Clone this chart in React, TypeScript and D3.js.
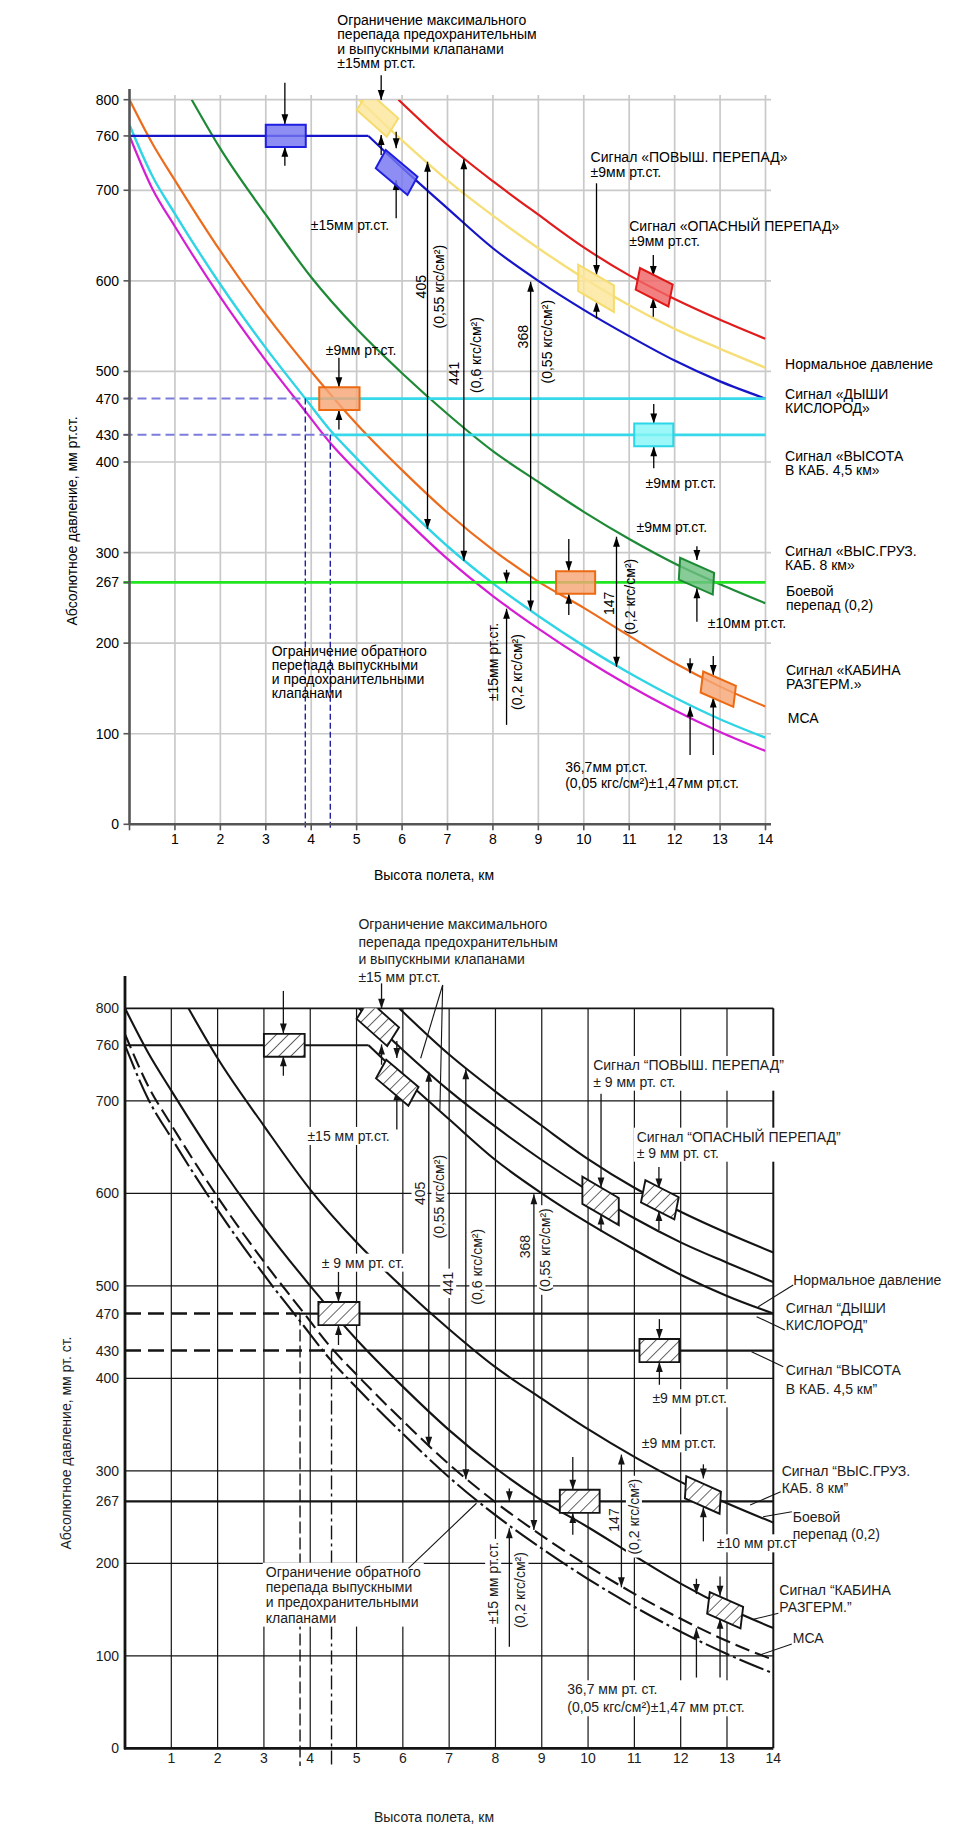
import React from "react";
import * as d3 from "d3";

type Pt = [number, number];

// ---------- data (km, mm Hg) ----------
const kmTicks = [1, 2, 3, 4, 5, 6, 7, 8, 9, 10, 11, 12, 13, 14];
const kmAxisTicks = [0, 1, 2, 3, 4, 5, 6, 7, 8, 9, 10, 11, 12, 13, 14];
const pTicks = [0, 100, 200, 267, 300, 400, 430, 470, 500, 600, 700, 760, 800];
const pGrid = [100, 200, 300, 400, 500, 600, 700, 800];

const curveRed: Pt[] = [[5.92, 800], [7, 750], [8, 710], [9, 673], [10, 637], [11, 606], [12, 580], [13, 557], [14, 536]];
const curveYellow: Pt[] = [[5.05, 800], [6, 755], [7, 711], [8, 672], [9, 636], [10, 603], [11, 573], [12, 547], [13, 525], [14, 504]];
const bluePlateau: Pt[] = [[0, 760], [5.26, 760]];
const curveBlue: Pt[] = [[5.26, 760], [6, 725], [7, 680], [8, 636], [9, 600], [10, 568], [11, 539], [12, 512], [13, 489], [14, 470]];
const curveGreen: Pt[] = [[1.37, 800], [2, 746], [3, 673], [4, 604], [5, 547], [6, 498], [7, 453], [8, 412], [9, 378], [10, 345], [11, 315], [12, 288], [13, 265], [14, 244]];
const curveOrange: Pt[] = [[0, 800], [0.5, 752], [1, 711], [2, 633], [3, 563], [4, 500], [5, 442], [6, 391], [7, 344], [8, 303], [9, 268], [10, 239], [11, 208], [12, 178], [13, 152], [14, 130]];
const curveCyan: Pt[] = [[0, 772], [0.5, 716], [1, 674], [2, 596], [3, 526], [3.87, 470], [4.42, 435], [5, 404], [6, 354], [7, 307], [8, 266], [9, 230], [10, 197], [11, 167], [12, 140], [13, 116], [14, 95.6]];
const curveMagenta: Pt[] = [[0, 760], [0.5, 702], [1, 660], [2, 582], [3, 512], [3.87, 456], [4.42, 421], [5, 390], [6, 340], [7, 293], [8, 252], [9, 216], [10, 183], [11, 153], [12, 126], [13, 102], [14, 81]];

const signalLevels = [470, 430];
const combatLevel = 267;

// parallelogram boxes: centre (km, p), long side u (km, mm), short side v (km, mm)
const boxes = [
  { km: 3.44, p: 760, u: [0.88, 0], v: [0, 24.7], c: "blue" },
  { km: 5.46, p: 784, u: [0.66, -29.5], v: [0.255, 20.3], c: "yellow" },
  { km: 5.88, p: 719.6, u: [0.698, -29.5], v: [0.22, 20.2], c: "blue" },
  { km: 4.62, p: 470, u: [0.887, 0], v: [0, 25], c: "orange" },
  { km: 11.54, p: 430, u: [0.86, 0], v: [0, 25], c: "cyan" },
  { km: 9.82, p: 267, u: [0.86, 0], v: [0, 25], c: "orange" },
  { km: 12.48, p: 273.9, u: [0.748, -16.6], v: [0.029, 24], c: "green" },
  { km: 12.96, p: 149.2, u: [0.72, -15.8], v: [0.057, 23.2], c: "orange" },
  { km: 10.27, p: 591.8, u: [0.786, -22.9], v: [0, 29.3], c: "yellow" },
  { km: 11.55, p: 593, u: [0.72, -18.4], v: [0.095, 24], c: "red" },
];

// single arrows: [km, from p, tip p]
const arrows: [number, number, number][] = [
  [3.42, 818.8, 772.8], [3.42, 727.1, 748.1],
  [5.54, 827, 799.6], [5.54, 739, 761],
  [5.87, 764.7, 746.3], [5.87, 669, 711.3],
  [4.61, 515, 482.5], [4.61, 436, 457.5],
  [11.54, 464, 442.5], [11.54, 393, 417.5],
  [9.67, 315, 279.5], [9.67, 231, 254.5],
  [12.49, 307, 291.8], [12.49, 223.7, 260.6],
  [12.85, 185.8, 164.8], [12.85, 76.5, 140],
  [12.34, 183.3, 166.7], [12.34, 76.5, 129.8],
  [10.28, 707.7, 606.4], [10.28, 558.6, 577],
  [11.53, 628.5, 605.3], [11.53, 560.4, 581],
  [8.3, 281, 267], [8.3, 109.8, 238],
];
// double arrows: [km, low p, high p]
const doubleArrows: [number, number, number][] = [
  [6.56, 326, 731.5], [7.36, 291, 734.2], [8.83, 236, 599], [10.72, 174, 317.5],
];

const labels = [
  { t: ["Ограничение максимального", "перепада предохранительным", "и выпускными клапанами", "±15мм рт.ст."],
    b: ["Ограничение максимального", "перепада предохранительным", "и выпускными клапанами", "±15 мм рт.ст."],
    km: 4.574, p: 888, bkm: 5.04, bp: 891.1, lh: 14.3, blh: 17.6 },
  { t: ["±15мм рт.ст."], b: ["±15 мм рт.ст."], km: 3.99, p: 661.6, bkm: 3.94, bp: 662 },
  { t: ["±9мм рт.ст."], b: ["± 9 мм рт. ст."], km: 4.32, p: 523.7, bkm: 4.25, bp: 525 },
  { t: ["Сигнал «ПОВЫШ. ПЕРЕПАД»", "±9мм рт.ст."], b: ["Сигнал “ПОВЫШ. ПЕРЕПАД”", "± 9 мм рт. ст."], km: 10.15, p: 737, bkm: 10.11, bp: 738.7, lh: 15.6, blh: 16.7 },
  { t: ["Сигнал «ОПАСНЫЙ ПЕРЕПАД»", "±9мм рт.ст."], b: ["Сигнал “ОПАСНЫЙ ПЕРЕПАД”", "± 9 мм рт. ст."], km: 11.0, p: 660.5, bkm: 11.05, bp: 661.2, lh: 14.7, blh: 16 },
  { t: ["Нормальное давление"], b: ["Нормальное давление"], km: 14.43, p: 508.2, bkm: 14.43, bp: 506.3 },
  { t: ["Сигнал «ДЫШИ", "КИСЛОРОД»"], b: ["Сигнал “ДЫШИ", "КИСЛОРОД”"], km: 14.43, p: 474.7, bkm: 14.27, bp: 475.7, lh: 14, blh: 16.7 },
  { t: ["Сигнал «ВЫСОТА", "В КАБ. 4,5 км»"], b: ["Сигнал “ВЫСОТА", "В КАБ. 4,5 км”"], km: 14.43, p: 406.6, bkm: 14.27, bp: 409, lh: 14, blh: 19.3 },
  { t: ["±9мм рт.ст."], b: ["±9 мм рт.ст."], km: 11.36, p: 377.1, bkm: 11.39, bp: 378.4 },
  { t: ["±9мм рт.ст."], b: ["±9 мм рт.ст."], km: 11.16, p: 328.6, bkm: 11.16, bp: 329.7 },
  { t: ["Сигнал «ВЫС.ГРУЗ.", "КАБ. 8 км»"], b: ["Сигнал “ВЫС.ГРУЗ.", "КАБ. 8 км”"], km: 14.43, p: 301.7, bkm: 14.18, bp: 300.1, lh: 14, blh: 17.6 },
  { t: ["Боевой", "перепад (0,2)"], b: ["Боевой", "перепад (0,2)"], km: 14.45, p: 257.6, bkm: 14.42, bp: 250.4, lh: 14, blh: 17.3 },
  { t: ["±10мм рт.ст."], b: ["±10 мм рт.ст"], km: 12.73, p: 221.9, bkm: 12.78, bp: 221.6 },
  { t: ["Сигнал «КАБИНА", "РАЗГЕРМ.»"], b: ["Сигнал “КАБИНА", "РАЗГЕРМ.”"], km: 14.45, p: 170.4, bkm: 14.13, bp: 171.1, lh: 14.3, blh: 17.3 },
  { t: ["МСА"], b: ["МСА"], km: 14.49, p: 117, bkm: 14.42, bp: 118.9 },
  { t: ["36,7мм рт.ст.", "(0,05 кгс/см²)±1,47мм рт.ст."], b: ["36,7 мм рт. ст.", "(0,05 кгс/см²)±1,47 мм рт.ст."], km: 9.59, p: 62.9, bkm: 9.55, bp: 63.8, lh: 16, blh: 18 },
  { t: ["Ограничение обратного", "перепада выпускными", "и предохранительными", "клапанами"],
    b: ["Ограничение обратного", "перепада выпускными", "и предохранительными", "клапанами"],
    km: 3.13, p: 191.7, bkm: 3.04, bp: 190.9, lh: 14.2, blh: 15.3 },
];

const rotLabels = [
  { t: "405", b: "405", km: 6.41, p: 593.5, bkm: 6.36, bp: 600 },
  { t: "(0,55 кгс/см²)", b: "(0,55 кгс/см²)", km: 6.82, p: 593.5, bkm: 6.79, bp: 596.3 },
  { t: "441", b: "441", km: 7.14, p: 497.9, bkm: 6.98, bp: 502.7 },
  { t: "(0,6 кгс/см²)", b: "(0,6 кгс/см²)", km: 7.63, p: 518.1, bkm: 7.61, bp: 520.6 },
  { t: "368", b: "368", km: 8.655, p: 538.3, bkm: 8.64, bp: 542.3 },
  { t: "(0,55 кгс/см²)", b: "(0,55 кгс/см²)", km: 9.18, p: 532.8, bkm: 9.07, bp: 538.7 },
  { t: "147", b: "147", km: 10.56, p: 244, bkm: 10.56, bp: 246.8 },
  { t: "(0,2 кгс/см²)", b: "(0,2 кгс/см²)", km: 11.02, p: 251.3, bkm: 10.99, bp: 250.4 },
  { t: "±15мм рт.ст.", b: "±15 мм рт.ст.", km: 7.995, p: 179.2, bkm: 7.95, bp: 178.7 },
  { t: "(0,2 кгс/см²)", b: "(0,2 кгс/см²)", km: 8.536, p: 168.1, bkm: 8.54, bp: 171.1 },
];

// leader lines (scanned panel only): [km1, p1, km2, p2]
const leaders: [number, number, number, number][] = [
  [6.86, 825.2, 6.385, 746], [6.86, 825.2, 6.8, 690.1],
  [14.43, 500.9, 13.675, 477.4],
  [14.25, 452.2, 13.64, 466.6],
  [14.215, 412.5, 13.53, 428.8],
  [14.16, 277.4, 13.5, 263],
  [14.4, 255.8, 13.78, 250.4],
  [14.11, 146, 13.57, 139.5],
  [14.4, 112.8, 13.71, 100.9],
  [6.12, 194.6, 7.59, 264.9],
];

// ---------- styles ----------
const CURVE_STYLE: Record<string, { c: string; w: number; dash?: string }> = {
  green: { c: "#1e8a36", w: 2.2 },
  red: { c: "#e11c1c", w: 2.2 },
  yellow: { c: "#f6df79", w: 2.4 },
  blue: { c: "#1616c8", w: 2.2 },
  orange: { c: "#ec6c1c", w: 2.2 },
  cyan: { c: "#2fd4e6", w: 2.4, dash: "15 6" },
  magenta: { c: "#d41ed4", w: 2.2, dash: "26 4 3 4" },
};
const BOX_STYLE: Record<string, { f: string; s: string }> = {
  blue: { f: "#7474f2", s: "#1f1fe0" },
  yellow: { f: "#fbe79a", s: "#f5dc6c" },
  orange: { f: "#f6a676", s: "#ec6a12" },
  cyan: { f: "#86f5f7", s: "#2ad6e8" },
  red: { f: "#f06464", s: "#e01818" },
  green: { f: "#6cbf80", s: "#1e8a35" },
};

const PANELS = [
  { id: "top", mono: false, x0: 129.5, x1: 765.5, y0: 824.3, y1: 99.7, axisTop: 89, gridTop: 95, gridRight: 771,
    yLabX: 119, xLabY: 839, yTitle: [71.7, 521], xTitle: [434, 875], dash: [3.87, 4.42], dashBottom: 828 },
  { id: "bot", mono: true, x0: 125, x1: 773.3, y0: 1748.3, y1: 1008.3, axisTop: 976, gridTop: 1008.3, gridRight: 773.3,
    yLabX: 119, xLabY: 1758, yTitle: [66, 1443], xTitle: [434, 1817], dash: [3.78, 4.46], dashBottom: 1766 },
];

const FONT = "'Liberation Sans', Arial, Helvetica, sans-serif";

let measureCtx: CanvasRenderingContext2D | null = null;
function textWidth(s: string, size = 14): number {
  try {
    if (!measureCtx && typeof document !== "undefined") {
      measureCtx = document.createElement("canvas").getContext("2d");
    }
    if (measureCtx) {
      measureCtx.font = `${size}px 'Liberation Sans', Arial, sans-serif`;
      return measureCtx.measureText(s).width;
    }
  } catch (e) {
    /* ignore */
  }
  return s.length * 6.8;
}

function Panel({ cfg }: { cfg: typeof PANELS[number] }) {
  const xs = d3.scaleLinear().domain([0, 14]).range([cfg.x0, cfg.x1]);
  const ys = d3.scaleLinear().domain([0, 800]).range([cfg.y0, cfg.y1]);
  const mono = cfg.mono;
  const ink = mono ? "#141414" : "#000";
  const txt = mono ? "#1c1c1c" : "#000";
  const line = d3.line<Pt>().x((d) => xs(d[0])).y((d) => ys(d[1])).curve(d3.curveMonotoneX);
  const lin = d3.line<Pt>().x((d) => xs(d[0])).y((d) => ys(d[1]));
  const clipId = `clip-${cfg.id}`;

  const curves: [string, Pt[]][] = [
    ["green", curveGreen], ["red", curveRed], ["yellow", curveYellow], ["blue", curveBlue],
    ["orange", curveOrange], ["cyan", curveCyan], ["magenta", curveMagenta],
  ];

  const head = (x: number, y: number, dir: number, k: string) => (
    <polygon key={k} points={`${x},${y} ${x - 3.4},${y - dir * 10} ${x + 3.4},${y - dir * 10}`} fill={ink} />
  );

  const boxPts = (b: typeof boxes[number]) => {
    const corners: Pt[] = [[-1, -1], [1, -1], [1, 1], [-1, 1]].map(([a, c]) => [
      b.km + (a * b.u[0]) / 2 + (c * b.v[0]) / 2,
      b.p + (a * b.u[1]) / 2 + (c * b.v[1]) / 2,
    ]);
    return corners.map((q) => `${xs(q[0])},${ys(q[1])}`).join(" ");
  };

  const labelGeo = labels.map((l) => {
    const lines = mono ? l.b : l.t;
    const x = xs(mono ? l.bkm : l.km);
    const y = ys(mono ? l.bp : l.p);
    const lh = (mono ? l.blh : l.lh) || 15;
    const w = Math.max(...lines.map((s) => textWidth(s)));
    return { lines, x, y, lh, w };
  });
  const rotGeo = rotLabels.map((l) => {
    const s = mono ? l.b : l.t;
    return { s, x: xs(mono ? l.bkm : l.km), y: ys(mono ? l.bp : l.p), w: textWidth(s) };
  });

  return (
    <g fontFamily={FONT}>
      <defs>
        <clipPath id={clipId}>
          <rect x={cfg.x0} y={ys(800)} width={xs(14) - cfg.x0} height={cfg.y0 - ys(800)} />
        </clipPath>
      </defs>

      {/* grid */}
      {kmTicks.map((k) => (
        <line key={`vg${k}`} x1={xs(k)} x2={xs(k)} y1={mono ? ys(800) : cfg.gridTop} y2={cfg.y0}
          stroke={mono ? ink : "#c9c9c9"} strokeWidth={mono ? (k === 14 ? 2 : 1.2) : 1.7} />
      ))}
      {pGrid.map((p) => (
        <line key={`hg${p}`} x1={cfg.x0} x2={cfg.gridRight} y1={ys(p)} y2={ys(p)}
          stroke={mono ? ink : "#c9c9c9"} strokeWidth={mono ? (p === 800 ? 1.8 : 1.2) : 1.7} />
      ))}

      {/* curves */}
      <g clipPath={`url(#${clipId})`} fill="none">
        {curves.map(([key, pts]) => {
          const st = CURVE_STYLE[key];
          return (
            <path key={key} d={line(pts) || ""} stroke={mono ? ink : st.c} strokeWidth={mono ? 2.1 : st.w}
              strokeDasharray={mono ? st.dash : undefined} />
          );
        })}
        <path d={lin(bluePlateau) || ""} stroke={mono ? ink : CURVE_STYLE.blue.c} strokeWidth={mono ? 2.1 : 2.2} />
      </g>

      {/* signal levels 470 / 430 */}
      {signalLevels.map((p, i) => (
        <g key={`sig${p}`}>
          <line x1={cfg.x0 - (mono ? 0 : 6)} x2={xs(cfg.dash[i])} y1={ys(p)} y2={ys(p)}
            stroke={mono ? ink : "#7c7cdc"} strokeWidth={mono ? 2.4 : 2} strokeDasharray={mono ? "16 7" : "9 5"} />
          <line x1={xs(cfg.dash[i])} x2={xs(14)} y1={ys(p)} y2={ys(p)}
            stroke={mono ? ink : "#36d8ea"} strokeWidth={mono ? 2.3 : 2.6} />
          <line x1={xs(cfg.dash[i])} x2={xs(cfg.dash[i])} y1={ys(p)} y2={cfg.dashBottom}
            stroke={mono ? ink : "#2222a0"} strokeWidth={1.4}
            strokeDasharray={mono ? (i === 0 ? "12 4" : "14 4 3 4") : "6 3"} />
        </g>
      ))}
      <line x1={cfg.x0 - (mono ? 0 : 6)} x2={xs(14)} y1={ys(combatLevel)} y2={ys(combatLevel)}
        stroke={mono ? ink : "#22e522"} strokeWidth={mono ? 2.3 : 2.7} />

      {/* white gaps behind the scanned panel's text */}
      {mono && labelGeo.map((g, i) => (
        <rect key={`wb${i}`} x={g.x - 3} y={g.y - 9} width={g.w + 6} height={(g.lines.length - 1) * g.lh + 18} fill="#fff" />
      ))}
      {mono && rotGeo.map((g, i) => (
        <rect key={`wr${i}`} x={g.x - 8} y={g.y - g.w / 2 - 3} width={16} height={g.w + 6} fill="#fff" />
      ))}

      {/* axes */}
      <line x1={cfg.x0} x2={cfg.x0} y1={cfg.axisTop} y2={cfg.y0 + (mono ? 1 : 0)} stroke={mono ? ink : "#555"} strokeWidth={mono ? 2.8 : 2.6} />
      <line x1={cfg.x0 - (mono ? 1 : 0)} x2={cfg.gridRight} y1={cfg.y0} y2={cfg.y0} stroke={mono ? ink : "#555"} strokeWidth={mono ? 2.8 : 2.6} />
      {!mono && pTicks.map((p) => (
        <line key={`yt${p}`} x1={cfg.x0 - 6} x2={cfg.x0} y1={ys(p)} y2={ys(p)} stroke="#555" strokeWidth={1.6} />
      ))}
      {!mono && kmAxisTicks.map((k) => (
        <line key={`xt${k}`} x1={xs(k)} x2={xs(k)} y1={cfg.y0} y2={cfg.y0 + 6} stroke="#555" strokeWidth={1.6} />
      ))}
      {pTicks.map((p) => (
        <text key={`yl${p}`} x={cfg.yLabX} y={ys(p)} textAnchor="end" dominantBaseline="central" fontSize={14} fill={txt}>{p}</text>
      ))}
      {kmTicks.map((k) => (
        <text key={`xl${k}`} x={xs(k)} y={cfg.xLabY} textAnchor="middle" dominantBaseline="central" fontSize={14} fill={txt}>{k}</text>
      ))}
      <text transform={`translate(${cfg.yTitle[0]},${cfg.yTitle[1]}) rotate(-90)`} textAnchor="middle" dominantBaseline="central" fontSize={14} fill={txt}>
        {mono ? "Абсолютное давление, мм рт. ст." : "Абсолютное давление, мм рт.ст."}
      </text>
      <text x={cfg.xTitle[0]} y={cfg.xTitle[1]} textAnchor="middle" dominantBaseline="central" fontSize={14} fill={txt}>Высота полета, км</text>

      {/* leader lines */}
      {mono && leaders.map((l, i) => (
        <line key={`ld${i}`} x1={xs(l[0])} y1={ys(l[1])} x2={xs(l[2])} y2={ys(l[3])} stroke={ink} strokeWidth={1.1} />
      ))}

      {/* arrows */}
      {arrows.map(([k, from, to], i) => {
        const x = xs(k), y1 = ys(from), y2 = ys(to);
        const dir = Math.sign(y2 - y1);
        return (
          <g key={`ar${i}`}>
            <line x1={x} x2={x} y1={y1} y2={y2} stroke={ink} strokeWidth={1.3} />
            {head(x, y2, dir, "h")}
          </g>
        );
      })}
      {doubleArrows.map(([k, lo, hi], i) => {
        const x = xs(k);
        return (
          <g key={`da${i}`}>
            <line x1={x} x2={x} y1={ys(lo)} y2={ys(hi)} stroke={ink} strokeWidth={1.3} />
            {head(x, ys(hi), -1, "a")}
            {head(x, ys(lo), 1, "b")}
          </g>
        );
      })}

      {/* boxes */}
      <g clipPath={`url(#${clipId})`}>
        {boxes.map((b, i) => {
          const pts = boxPts(b);
          if (mono) {
            return (
              <g key={`bx${i}`}>
                <polygon points={pts} fill="#fff" />
                <polygon points={pts} fill="url(#hatch)" stroke={ink} strokeWidth={1.9} />
              </g>
            );
          }
          const st = BOX_STYLE[b.c];
          return <polygon key={`bx${i}`} points={pts} fill={st.f} fillOpacity={0.82} stroke={st.s} strokeWidth={2} />;
        })}
      </g>

      {/* labels */}
      {labelGeo.map((g, i) => (
        <g key={`lb${i}`}>
          {g.lines.map((s, j) => (
            <text key={j} x={g.x} y={g.y + j * g.lh} dominantBaseline="central" fontSize={14} fill={txt}>{s}</text>
          ))}
        </g>
      ))}
      {rotGeo.map((g, i) => (
        <text key={`rl${i}`} transform={`translate(${g.x},${g.y}) rotate(-90)`} textAnchor="middle" dominantBaseline="central"
          fontSize={14} fill={txt}>{g.s}</text>
      ))}
    </g>
  );
}

export default function App() {
  return (
    <svg width={980} height={1839} style={{ position: "absolute", left: 0, top: 0, display: "block" }}>
      <defs>
        <pattern id="hatch" patternUnits="userSpaceOnUse" width={8.5} height={8.5} patternTransform="rotate(45)">
          <line x1={0} y1={0} x2={0} y2={8.5} stroke="#141414" strokeWidth={1.3} />
        </pattern>
      </defs>
      <rect x={0} y={0} width={980} height={1839} fill="#fff" />
      {PANELS.map((cfg) => (
        <Panel key={cfg.id} cfg={cfg} />
      ))}
    </svg>
  );
}
